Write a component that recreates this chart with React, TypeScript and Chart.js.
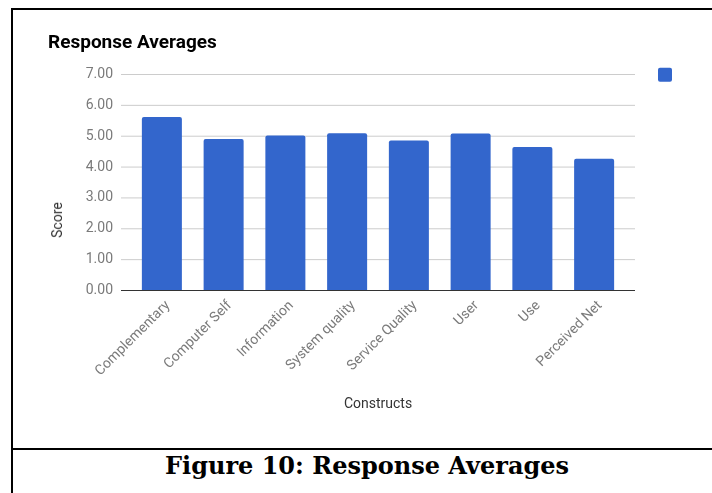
import React, { useEffect, useRef } from 'react';
import { Chart, registerables } from 'chart.js';

Chart.register(...registerables);

const categories = [
  'Complementary',
  'Computer Self',
  'Information',
  'System quality',
  'Service Quality',
  'User',
  'Use',
  'Perceived Net',
];
const scores = [5.62, 4.91, 5.02, 5.1, 4.86, 5.09, 4.65, 4.27];
const yTickValues = [0, 1, 2, 3, 4, 5, 6, 7];
const chartTitle = 'Response Averages';
const xAxisTitle = 'Constructs';
const yAxisTitle = 'Score';
const figureCaption = 'Figure 10: Response Averages';

const gridPlugin = {
  id: 'extGrid',
  beforeDatasetsDraw(chart: any) {
    const { ctx, chartArea, scales } = chart;
    const y = scales.y;
    ctx.save();
    ctx.lineWidth = 1;
    ctx.strokeStyle = '#cccccc';
    yTickValues.forEach((v) => {
      if (v === 0) return;
      const py = y.getPixelForValue(v);
      ctx.beginPath();
      ctx.moveTo(chartArea.left - 10, py);
      ctx.lineTo(chartArea.right + 10, py);
      ctx.stroke();
    });
    ctx.restore();
  },
  afterDatasetsDraw(chart: any) {
    const { ctx, chartArea, scales } = chart;
    const py = scales.y.getPixelForValue(0);
    ctx.save();
    ctx.lineWidth = 1;
    ctx.strokeStyle = '#333333';
    ctx.beginPath();
    ctx.moveTo(chartArea.left - 10, py);
    ctx.lineTo(chartArea.right + 10, py);
    ctx.stroke();
    ctx.restore();
  },
};

export default function App() {
  const canvasRef = useRef<HTMLCanvasElement | null>(null);

  useEffect(() => {
    if (!canvasRef.current) return;
    const chart = new Chart(canvasRef.current, {
      type: 'bar',
      data: {
        labels: categories,
        datasets: [
          {
            label: '',
            data: scores,
            backgroundColor: '#3366cc',
            borderRadius: 2,
            categoryPercentage: 1,
            barPercentage: 0.648,
          },
        ],
      },
      plugins: [gridPlugin],
      options: {
        responsive: false,
        animation: false,
        layout: { padding: { left: 48, top: 20, right: 8.3, bottom: 0 } },
        plugins: {
          tooltip: { enabled: false },
          title: {
            display: true,
            text: chartTitle,
            align: 'start',
            color: '#000000',
            font: { family: 'Roboto', size: 19, weight: 'bold' },
            padding: { top: 11.85, bottom: 19.85 },
          },
          legend: {
            display: true,
            position: 'right',
            align: 'start',
            labels: {
              boxWidth: 14,
              boxHeight: 14,
              padding: 33,
              font: { family: 'Roboto', size: 43.4 },
              useBorderRadius: true,
              borderRadius: 2,
            },
          },
        },
        scales: {
          x: {
            grid: { display: false, drawTicks: false },
            border: { display: false },
            ticks: {
              autoSkip: false,
              minRotation: 45,
              maxRotation: 45,
              padding: 7,
              labelOffset: 6,
              color: '#7a7a7a',
              font: { family: 'Roboto', size: 14 },
            },
            title: {
              display: true,
              text: xAxisTitle,
              color: '#333333',
              font: { family: 'Roboto', size: 14 },
              padding: { top: 4, bottom: 35.1 },
            },
            afterFit(scale: any) {
              scale.height = 157.5;
            },
          },
          y: {
            min: 0,
            max: 7,
            grid: { display: false, drawTicks: false },
            border: { display: false },
            ticks: {
              stepSize: 1,
              padding: 18,
              color: '#7a7a7a',
              font: { family: 'Roboto', size: 14 },
              callback: (v: any) => Number(v).toFixed(2),
            },
            afterFit(scale: any) {
              scale.width = 83;
            },
          },
        },
      },
    });
    return () => chart.destroy();
  }, []);

  return (
    <div
      style={{
        position: 'fixed',
        left: 0,
        top: 0,
        width: 712,
        height: 493,
        overflow: 'hidden',
        background: '#ffffff',
      }}
    >
      <div
        style={{
          position: 'absolute',
          left: 11,
          top: 8,
          width: 720,
          height: 500,
          borderLeft: '2px solid #000',
          borderTop: '2px solid #000',
          boxSizing: 'border-box',
        }}
      />
      <canvas
        ref={canvasRef}
        width={712}
        height={448}
        style={{ position: 'absolute', left: 0, top: 0, width: 712, height: 448 }}
      />
      <div
        style={{
          position: 'absolute',
          left: 57,
          top: 220,
          transform: 'translate(-50%, -50%) rotate(-90deg)',
          fontFamily: 'Roboto',
          fontSize: 14,
          lineHeight: '14px',
          color: '#333333',
          whiteSpace: 'nowrap',
        }}
      >
        {yAxisTitle}
      </div>
      <div
        style={{
          position: 'absolute',
          left: 11,
          top: 448,
          width: 720,
          height: 2,
          background: '#000',
        }}
      />
      <div
        style={{
          position: 'absolute',
          left: 165,
          top: 452,
          fontFamily: '"DejaVu Serif", serif',
          fontWeight: 'bold',
          fontSize: 24,
          lineHeight: '28px',
          color: '#000',
          whiteSpace: 'nowrap',
        }}
      >
        {figureCaption}
      </div>
    </div>
  );
}
